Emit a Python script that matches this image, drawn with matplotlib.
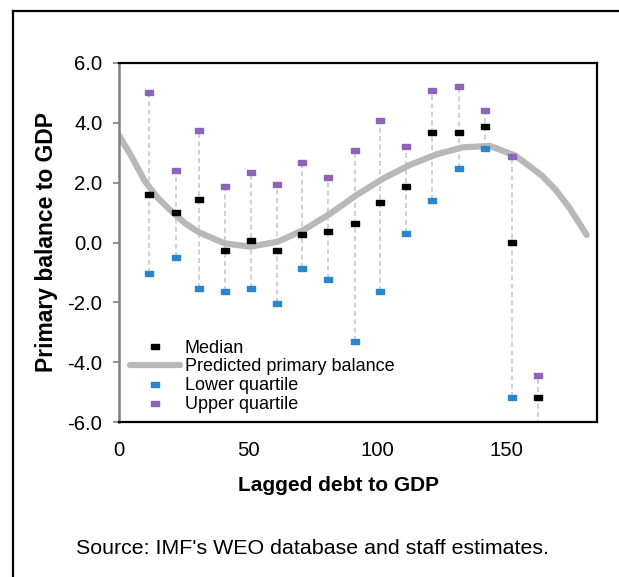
import numpy as np
import matplotlib
matplotlib.use("Agg")
import matplotlib.pyplot as plt
from matplotlib.lines import Line2D

plt.rcParams["font.family"] = ["Liberation Sans", "DejaVu Sans"]

# -----------------------------
# Data
# -----------------------------
debt_bins = [11.5, 22, 31, 41, 51, 61, 71, 81, 91.5, 101, 111, 121, 131.5, 141.5, 152, 162]
median = [1.62, 1.03, 1.44, -0.25, 0.09, -0.24, 0.29, 0.37, 0.64, 1.36, 1.89, 3.70, 3.70, 3.89, 0.03, -5.17]
lower_q = [-1.02, -0.49, -1.51, -1.62, -1.51, -2.03, -0.84, -1.23, -3.29, -1.62, 0.31, 1.43, 2.50, 3.15, -5.15, -7.5]
upper_q = [5.02, 2.43, 3.77, 1.90, 2.36, 1.95, 2.70, 2.18, 3.10, 4.10, 3.24, 5.10, 5.23, 4.43, 2.89, -4.43]

curve_x = [0, 5, 10, 15, 20.5, 25.5, 30.5, 36, 41, 51, 61.5, 71.5, 82, 92, 102.5, 112.5,
           123, 133, 143.5, 153.5, 163.5, 169, 174, 179, 181]
curve_y = [3.58, 2.85, 2.05, 1.49, 1.03, 0.65, 0.36, 0.15, -0.03, -0.14, 0.03, 0.42, 0.98,
           1.59, 2.15, 2.59, 2.95, 3.18, 3.23, 2.90, 2.25, 1.76, 1.20, 0.53, 0.25]

y_ticks = [-6, -4, -2, 0, 2, 4, 6]
x_ticks = [0, 50, 100, 150]

BLUE = "#2a86cc"
PURPLE = "#8f63b8"
CURVE_GREY = "#b8b8b8"

# wide little rectangle, like the Excel markers
RECT = [(-1, -0.6), (1, -0.6), (1, 0.6), (-1, 0.6), (-1, -0.6)]

fig = plt.figure(figsize=(6.19, 5.77), dpi=100)
ax = fig.add_axes([119 / 619, 1 - 422 / 577, (597 - 119) / 619, (422 - 63) / 577])

# dashed whiskers between quartiles
ax.vlines(debt_bins, lower_q, upper_q, colors="#c8c8c8", linestyles=(0, (3, 2)), linewidth=1.2, zorder=1)

ax.plot(debt_bins, median, linestyle="none", marker=RECT, markersize=6,
        color="black", label="Median", zorder=4)
ax.plot(curve_x, curve_y, color=CURVE_GREY, linewidth=4.5, solid_capstyle="round",
        solid_joinstyle="round", label="Predicted primary balance", zorder=2)
ax.plot(debt_bins, lower_q, linestyle="none", marker=RECT, markersize=6,
        color=BLUE, label="Lower quartile", zorder=3)
ax.plot(debt_bins, upper_q, linestyle="none", marker=RECT, markersize=6,
        color=PURPLE, label="Upper quartile", zorder=3)

ax.set_xlim(0, 185)
ax.set_ylim(-6, 6)
ax.set_xticks(x_ticks)
ax.set_yticks(y_ticks)
ax.set_yticklabels([f"{v:.1f}" for v in y_ticks])
ax.tick_params(axis="x", length=0, pad=14, labelsize=14.7)
ax.tick_params(axis="y", length=4, width=1.2, color="#808080", pad=8, labelsize=14.7)

for side in ["top", "right", "bottom"]:
    ax.spines[side].set_color("black")
    ax.spines[side].set_linewidth(1.6)
ax.spines["left"].set_color("#808080")
ax.spines["left"].set_linewidth(1.8)

ax.set_xlabel("Lagged debt to GDP", fontsize=15, fontweight="bold", labelpad=11)
ax.xaxis.label.set_x(0.46)
ax.set_ylabel("Primary balance to GDP", fontsize=16.5, fontweight="bold", labelpad=7)

ax.legend(loc="lower left", bbox_to_anchor=(-0.008, -0.015), frameon=False, fontsize=13,
          handlelength=2.8, handletextpad=0.25, labelspacing=0.1, borderpad=0.3)

fig.text(0.5 * (75 + 550) / 619, 1 - 548 / 577, "Source: IMF's WEO database and staff estimates.",
         ha="center", va="center", fontsize=15.4)

# outer frame (left and top edges only, as in the original crop)
fig.add_artist(Line2D([13 / 619, 13 / 619], [0, 1 - 11 / 577], color="black", linewidth=1.6))
fig.add_artist(Line2D([13 / 619, 1], [1 - 11 / 577, 1 - 11 / 577], color="black", linewidth=1.6))

fig.savefig("out.png", dpi=100)
plt.close(fig)
